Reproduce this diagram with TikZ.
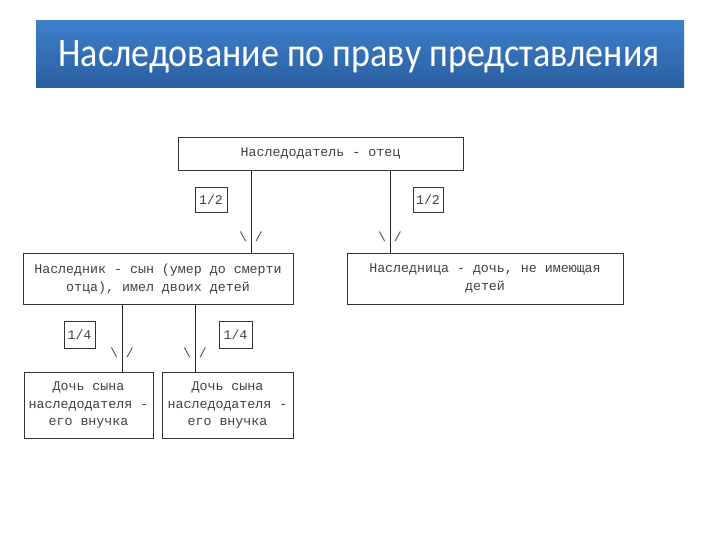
\documentclass[tikz,border=0pt]{standalone}
\usepackage{fontspec}
\setmainfont{Liberation Mono}
\newfontfamily\titlefont{Carlito}
\newfontfamily\monofont{Liberation Mono}
\begin{document}
\begin{tikzpicture}[x=1pt,y=-1pt,
  box/.style={draw=black!80,line width=0.8pt,rectangle,inner sep=0pt,
    align=center,font=\monofont\fontsize{13.3}{17.5}\selectfont,text=black!75},
  frac/.style={box},
  tick/.style={font=\monofont\fontsize{13.3}{16}\selectfont,text=black!70,inner sep=0pt},
  conn/.style={draw=black!85,line width=0.8pt}]
\useasboundingbox (0,0) rectangle (720,540);
\fill[white] (0,0) rectangle (720,540);
% title
\shade[top color={rgb,255:red,60;green,128;blue,203},bottom color={rgb,255:red,42;green,94;blue,160}]
  (36,21) rectangle (684,88);
\node[text=white,font=\titlefont\fontsize{36}{40}\selectfont,inner sep=0pt] (title) at (359,56.5) {\scalebox{1}[1.12]{Наследование по праву представления}};
% boxes
\node[box,minimum width=285pt,minimum height=33pt] (top) at (320.5,153.5) {Наследодатель - отец};
\node[frac,minimum width=32pt,minimum height=25pt] (h1) at (211,199.5) {1/2};
\node[frac,minimum width=30pt,minimum height=25pt] (h2) at (428,199.5) {1/2};
\node[box,minimum width=270pt,minimum height=51pt] (midL) at (158,279) {Наследник - сын (умер до смерти\\отца), имел двоих детей};
\node[box,minimum width=276pt,minimum height=51pt] (midR) at (485,278.5) {Наследница - дочь, не имеющая\\детей};
\node[frac,minimum width=31pt,minimum height=27pt] (q1) at (79.5,334.5) {1/4};
\node[frac,minimum width=33pt,minimum height=27pt] (q2) at (235.5,334.5) {1/4};
\node[box,minimum width=129pt,minimum height=66pt] (botL) at (88.5,405) {Дочь сына\\наследодателя -\\его внучка};
\node[box,minimum width=131pt,minimum height=66pt] (botR) at (227.5,405) {Дочь сына\\наследодателя -\\его внучка};
% connector x positions
\coordinate (c1) at (251,0);
\coordinate (c2) at (390,0);
\coordinate (c3) at (122,0);
\coordinate (c4) at (195,0);
\draw[conn] (top.south -| c1) -- (midL.north -| c1);
\draw[conn] (top.south -| c2) -- (midR.north -| c2);
\draw[conn] (midL.south -| c3) -- (botL.north -| c3);
\draw[conn] (midL.south -| c4) -- (botR.north -| c4);
% arrow-head characters
\node[tick] (a1) at (251,237) {\textbackslash{} /};
\node[tick] (a2) at (390,237) {\textbackslash{} /};
\node[tick] (a3) at (122,353) {\textbackslash{} /};
\node[tick] (a4) at (195,353) {\textbackslash{} /};
\end{tikzpicture}
\end{document}
